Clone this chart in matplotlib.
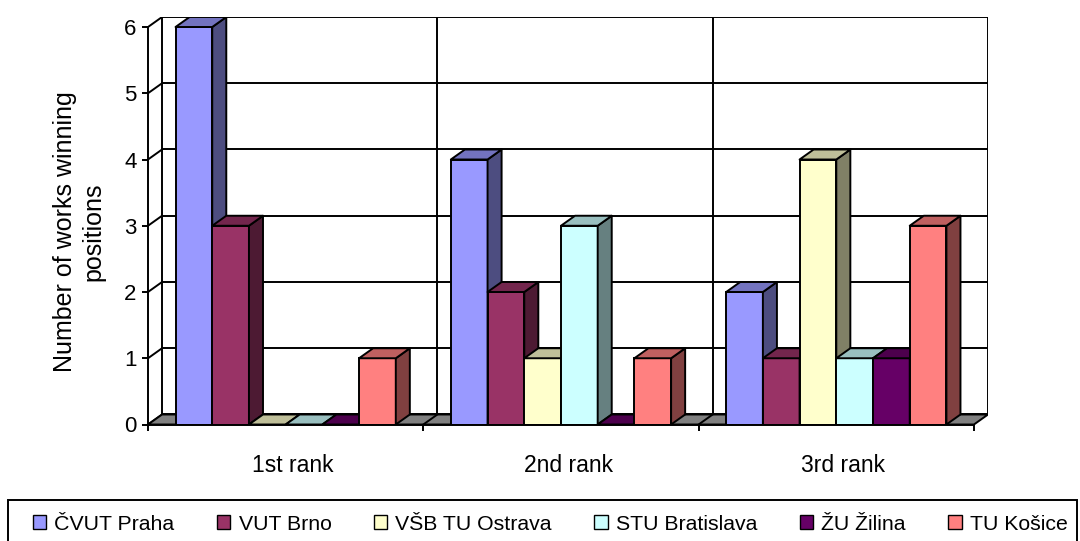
import matplotlib
matplotlib.use("Agg")
import numpy as np
import matplotlib.pyplot as plt
from matplotlib.patches import Polygon, Patch, Rectangle
from matplotlib.collections import PolyCollection
from matplotlib.colors import to_rgb

plt.rcParams["font.family"] = ["Liberation Sans", "DejaVu Sans"]

# data ################
categories = ["1st rank", "2nd rank", "3rd rank"]
universities = ["ČVUT Praha", "VUT Brno", "VŠB TU Ostrava",
                "STU Bratislava", "ŽU Žilina", "TU Košice"]
cvut = [6, 4, 2]
vut = [3, 2, 1]
vsb = [0, 1, 4]
stu = [0, 3, 1]
zu = [0, 0, 1]
tuke = [1, 1, 3]
series = [cvut, vut, vsb, stu, zu, tuke]
colors = ["#9999FF", "#993366", "#FFFFCC", "#CCFFFF", "#660066", "#FF8080"]
y_max = 6
#######################

# pseudo 3d depth (data units) and bar width
DX = 0.051
DY = 0.151
W = 1 / 7.5
LW = 1.4


def shade(c, f):
    r, g, b = to_rgb(c)
    return (r * f, g * f, b * f)


fig = plt.figure(figsize=(10.8, 5.41), dpi=100)
ax = fig.add_axes([148 / 1080, (541 - 424.5) / 541, 840 / 1080, 407.5 / 541])
n_cat = len(categories)
ax.set_xlim(-0.5, n_cat - 0.5 + DX)
ax.set_ylim(0, y_max + DY)

# back wall + grid
ax.add_patch(Rectangle((-0.5 + DX, DY), n_cat, y_max, facecolor="white",
                       edgecolor="black", linewidth=LW, zorder=0))
for y in range(1, y_max):
    ax.plot([-0.5 + DX, n_cat - 0.5 + DX], [y + DY, y + DY], color="black",
            linewidth=LW, zorder=0.5)
for x in np.arange(0.5, n_cat - 0.5):
    ax.plot([x + DX, x + DX], [DY, y_max + DY], color="black",
            linewidth=LW, zorder=0.5)
# left wall diagonals
for y in range(0, y_max + 1):
    ax.plot([-0.5, -0.5 + DX], [y, y + DY], color="black",
            linewidth=LW, zorder=0.5)

# floor
ax.add_patch(Polygon([(-0.5, 0), (n_cat - 0.5, 0), (n_cat - 0.5 + DX, DY),
                      (-0.5 + DX, DY)], closed=True, facecolor="#808080",
                     edgecolor="black", linewidth=LW, zorder=1))
for x in np.arange(0.5, n_cat - 0.5):
    ax.plot([x, x + DX], [0, DY], color="black", linewidth=LW, zorder=1.1)

# bars
xc = np.arange(n_cat)
for i, (vals, c) in enumerate(zip(series, colors)):
    z = 3 + i
    xl = xc - 3 * W + i * W
    xr = xl + W
    ax.bar(xl, vals, width=W, align="edge", color=c, edgecolor="black",
           linewidth=LW, zorder=z)
    sides = [[(r, 0), (r + DX, DY), (r + DX, v + DY), (r, v)]
             for r, v in zip(xr, vals)]
    tops = [[(l, v), (r, v), (r + DX, v + DY), (l + DX, v + DY)]
            for l, r, v in zip(xl, xr, vals)]
    ax.add_collection(PolyCollection(sides, facecolors=[shade(c, 0.5)],
                                     edgecolors="black", linewidths=LW,
                                     zorder=z))
    ax.add_collection(PolyCollection(tops, facecolors=[shade(c, 0.75)],
                                     edgecolors="black", linewidths=LW,
                                     zorder=z))

# axes
for s in ["top", "right"]:
    ax.spines[s].set_visible(False)
ax.spines["left"].set_bounds(0, y_max)
ax.spines["bottom"].set_bounds(-0.5, n_cat - 0.5)
for s in ["left", "bottom"]:
    ax.spines[s].set_linewidth(LW)
    ax.spines[s].set_zorder(20)

ax.set_yticks(range(0, y_max + 1))
ax.tick_params(axis="y", length=4.3, width=LW, labelsize=16, pad=4)
ax.set_xticks(np.arange(-0.5, n_cat))
ax.set_xticklabels([])
ax.tick_params(axis="x", which="major", length=4.3, width=LW)
ax.set_xticks(xc + DX / 2, minor=True)
ax.set_xticklabels(categories, minor=True)
ax.tick_params(axis="x", which="minor", length=0, labelsize=16.5, pad=21)

ax.set_ylabel("Number of works winning\npositions", fontsize=18,
              va="center", ha="center", multialignment="center",
              linespacing=1.25)
ax.yaxis.set_label_coords((79 - 148) / 840, (424.5 - 232) / 407.5)

# legend
handles = [Patch(facecolor=c, edgecolor="black", linewidth=1) for c in colors]
fig.legend(handles, universities, loc="center left",
           bbox_to_anchor=(33 / 1080, 1 - 524 / 541), ncol=6, frameon=False,
           fontsize=15.3, handlelength=0.63, handleheight=0.63,
           handletextpad=0.38, columnspacing=2.0, borderpad=0,
           borderaxespad=0)
fig.add_artist(Rectangle((8 / 1080, -0.05), (1077 - 8) / 1080,
                         (1 - 500 / 541) + 0.05, fill=False,
                         edgecolor="black", linewidth=LW,
                         transform=fig.transFigure))

fig.savefig("out.png", dpi=100)
